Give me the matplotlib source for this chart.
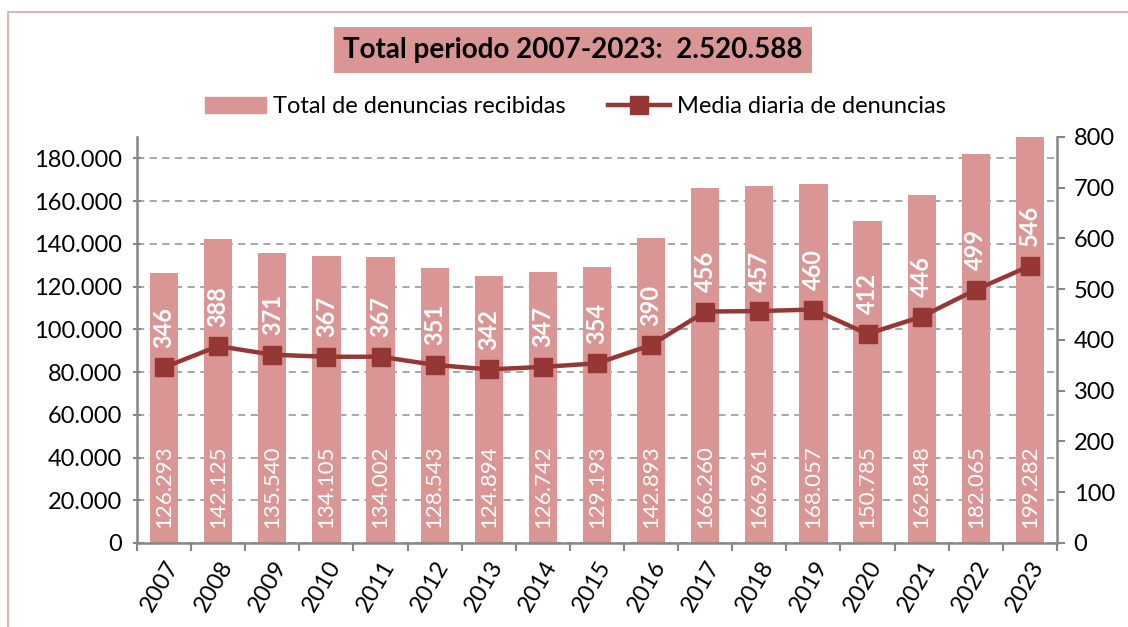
import matplotlib
matplotlib.use('Agg')
import matplotlib.pyplot as plt
from matplotlib.patches import Rectangle

years = ['2007', '2008', '2009', '2010', '2011', '2012', '2013', '2014', '2015',
         '2016', '2017', '2018', '2019', '2020', '2021', '2022', '2023']
total_denuncias = [126293, 142125, 135540, 134105, 134002, 128543, 124894, 126742, 129193,
                   142893, 166260, 166961, 168057, 150785, 162848, 182065, 199282]
media_diaria = [346, 388, 371, 367, 367, 351, 342, 347, 354,
                390, 456, 457, 460, 412, 446, 499, 546]
titulo = 'Total periodo 2007-2023:  2.520.588'

bar_col = '#D99694'
line_col = '#953735'
grid_col = '#A0A0A0'
axis_col = '#868686'

plt.rcParams['font.family'] = ['Lato', 'DejaVu Sans']

def miles(v):
    return '{:,}'.format(int(v)).replace(',', '.')

fig = plt.figure(figsize=(11.28, 6.27), dpi=100)
fig.patches.append(Rectangle((0.007, -0.1), 1.1, 1.081, transform=fig.transFigure,
                             fill=False, edgecolor='#E6A0A0', linewidth=1.2))

ax = fig.add_axes([0.1215, 0.134, 0.8155, 0.6475])
ax2 = ax.twinx()
ax.set_zorder(1)
ax2.set_zorder(2)
ax.patch.set_visible(False)

x = list(range(len(years)))
ax.bar(x, total_denuncias, width=0.52, color=bar_col, zorder=2)
ax.set_xlim(-0.5, len(years) - 0.5)
ax.set_ylim(0, 190000)
ax.set_yticks(range(0, 180001, 20000))
ax.set_yticklabels([miles(v) for v in range(0, 180001, 20000)])
ax.yaxis.grid(True, linestyle=(0, (4, 3)), color=grid_col, linewidth=1.3, zorder=0)
ax.set_axisbelow(True)

for i, v in enumerate(total_denuncias):
    ax.text(i, 7000, miles(v), rotation=90, ha='center', va='bottom',
            color='white', fontsize=16, zorder=5)

ax2.plot(x, media_diaria, color=line_col, linewidth=3.2, marker='s',
         markersize=13, label='Media diaria de denuncias')
ax2.set_ylim(0, 800)
ax2.set_yticks(range(0, 801, 100))
for i, v in enumerate(media_diaria):
    ax2.annotate(str(v), (i, v), xytext=(0, 14), textcoords='offset points',
                 rotation=90, ha='center', va='bottom', color='white', fontsize=17,
                 fontweight='bold')

# ticks entre categorias, estilo excel
ax.set_xticks([i - 0.5 for i in range(len(years) + 1)], minor=False)
ax.set_xticklabels([])
ax.set_xticks(x, minor=True)
ax.set_xticklabels(years, minor=True, rotation=60, ha='right', rotation_mode='anchor',
                   fontsize=17)
ax.tick_params(axis='x', which='major', length=6, width=1.5, color=axis_col, direction='out')
ax.tick_params(axis='x', which='minor', length=0, pad=10)
ax.tick_params(axis='y', length=6, width=1.5, color=axis_col, direction='inout',
               labelsize=17, pad=8)
ax2.tick_params(axis='y', length=6, width=1.5, color=axis_col, direction='out',
                labelsize=17, pad=6)

for a in (ax, ax2):
    a.spines['top'].set_visible(False)
    for s in ('left', 'right', 'bottom'):
        a.spines[s].set_color(axis_col)
        a.spines[s].set_linewidth(1.8)
ax.spines['right'].set_visible(False)
ax2.spines['left'].set_visible(False)
ax2.spines['bottom'].set_visible(False)

fig.text(0.508, 0.92, titulo, ha='center', va='center', fontsize=20, fontweight='bold',
         bbox=dict(boxstyle='square,pad=0.35', facecolor=bar_col, edgecolor='none'))

h1 = Rectangle((0, 0), 1, 1, color=bar_col)
h2 = plt.Line2D([], [], color=line_col, linewidth=3.2, marker='s', markersize=13)
fig.legend([h1, h2], ['Total de denuncias recibidas', 'Media diaria de denuncias'],
           loc='center', bbox_to_anchor=(0.51, 0.83), ncol=2, frameon=False,
           fontsize=17, handlelength=2.6, columnspacing=1.8, handletextpad=0.3)

plt.savefig('out.png', dpi=100)
